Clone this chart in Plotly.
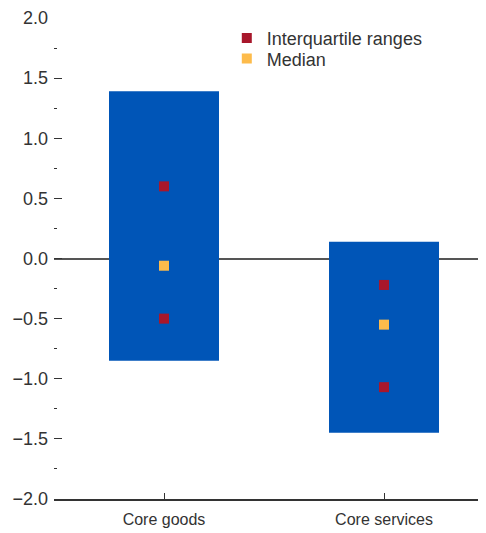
import plotly.graph_objects as go

categories = ["Core goods", "Core services"]
range_low = [-0.85, -1.45]
range_high = [1.39, 0.14]
q1 = [-0.50, -1.07]
q3 = [0.60, -0.22]
median = [-0.06, -0.55]

FONT = "Liberation Sans, Arial, sans-serif"
BLUE = "#0055B7"
RED = "#A8172B"
YELLOW = "#FDBB4B"
DARK = "#333333"

fig = go.Figure()
fig.add_trace(go.Bar(
    x=categories,
    y=[h - l for h, l in zip(range_high, range_low)],
    base=range_low,
    marker=dict(color=BLUE, line=dict(width=0)),
    width=0.5,
    showlegend=False,
    hoverinfo="skip",
))
fig.add_trace(go.Scatter(
    x=categories + categories,
    y=q3 + q1,
    mode="markers",
    marker=dict(symbol="square", size=10, color=RED, line=dict(width=0)),
    name="Interquartile ranges",
    legend="legend",
))
fig.add_trace(go.Scatter(
    x=categories,
    y=median,
    mode="markers",
    marker=dict(symbol="square", size=10, color=YELLOW, line=dict(width=0)),
    name="Median",
    legend="legend2",
))

leg_common = dict(
    x=0.40, xanchor="left", yanchor="middle",
    bgcolor="rgba(0,0,0,0)", font=dict(size=18, color=DARK),
    itemwidth=30,
)

# page body has an 8px default margin, so the figure is 8px smaller than the window
fig.update_layout(
    width=478,
    height=525,
    margin=dict(l=46, r=0, t=10, b=34),
    plot_bgcolor="white",
    paper_bgcolor="white",
    font=dict(family=FONT, size=16, color=DARK),
    legend=dict(y=0.958, **leg_common),
    legend2=dict(y=0.915, **leg_common),
)
fig.update_xaxes(
    type="category",
    range=[-0.5, 1.4636],
    showline=True, linecolor=DARK, linewidth=1.5,
    ticks="inside", ticklen=6, tickcolor=DARK, tickwidth=1.2,
    showgrid=False,
    tickfont=dict(size=16, color=DARK),
    ticklabelstandoff=5,
)
fig.update_yaxes(
    range=[-2, 2],
    dtick=0.5, tick0=0,
    tickformat=".1f",
    showline=False,
    showgrid=False,
    zeroline=True, zerolinecolor="#555555", zerolinewidth=1.5,
    ticks="inside", ticklen=8, tickcolor=DARK, tickwidth=1.2,
    minor=dict(dtick=0.25, tick0=0, ticks="inside", ticklen=3, tickcolor=DARK, tickwidth=1.2),
    tickfont=dict(size=18, color=DARK),
    ticklabelstandoff=5,
)

fig.write_html("out.html")
